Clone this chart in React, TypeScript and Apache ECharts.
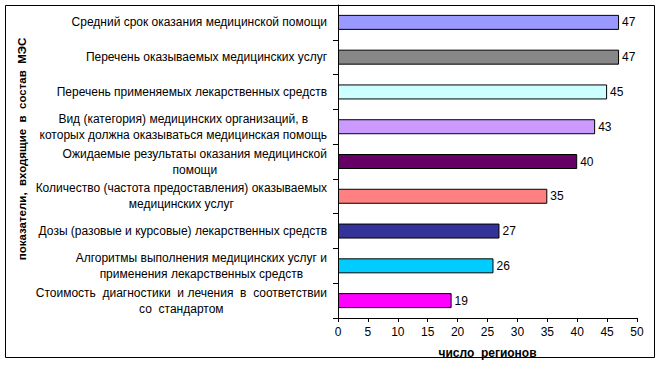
import React, { useEffect, useRef } from "react";
import * as echarts from "echarts";

const categories: string[] = [
  "Средний срок оказания медицинской помощи",
  "Перечень оказываемых медицинских услуг",
  "Перечень применяемых лекарственных средств",
  "Вид (категория) медицинских организаций, в\nкоторых должна оказываться медицинская помощь",
  "Ожидаемые результаты оказания медицинской\nпомощи",
  "Количество (частота предоставления) оказываемых\nмедицинских услуг",
  "Дозы (разовые и курсовые) лекарственных средств",
  "Алгоритмы выполнения медицинских услуг и\nприменения лекарственных средств",
  "Стоимость  диагностики  и лечения  в  соответствии\nсо  стандартом",
];
const values: number[] = [47, 47, 45, 43, 40, 35, 27, 26, 19];
const colors: string[] = [
  "#9999FF",
  "#878787",
  "#CCFFFF",
  "#CC99FF",
  "#660066",
  "#FF8080",
  "#333399",
  "#00CCFF",
  "#FF00FF",
];
const xTicks: number[] = [0, 5, 10, 15, 20, 25, 30, 35, 40, 45, 50];
const xAxisName = "число  регионов";
const yAxisName = "показатели,  входящие  в  состав  МЭС";

const FONT = "'Liberation Sans', Arial, sans-serif";

export default function App() {
  const ref = useRef<HTMLDivElement>(null);
  useEffect(() => {
    document.body.style.margin = "0";
    if (!ref.current) return;
    const chart = echarts.init(ref.current, null, { renderer: "svg" });
    chart.setOption({
      animation: false,
      backgroundColor: "#ffffff",
      textStyle: { fontFamily: FONT },
      grid: { left: 338, right: 22, top: 5, bottom: 47 },
      xAxis: {
        type: "value",
        min: xTicks[0],
        max: xTicks[xTicks.length - 1],
        interval: 5,
        name: xAxisName,
        nameLocation: "middle",
        nameGap: 29,
        nameTextStyle: { fontFamily: FONT, fontSize: 12, fontWeight: "bold", color: "#000" },
        axisLine: { show: true, lineStyle: { color: "#000", width: 1 } },
        axisTick: { show: true, length: 4, lineStyle: { color: "#000" } },
        axisLabel: { fontFamily: FONT, fontSize: 12, color: "#000", margin: 8 },
        splitLine: { show: false },
      },
      yAxis: {
        type: "category",
        inverse: true,
        data: categories,
        axisLine: { show: true, lineStyle: { color: "#000", width: 1 } },
        axisTick: { show: true, length: 5, inside: false, lineStyle: { color: "#000" } },
        axisLabel: {
          margin: 11,
          align: "right",
          fontFamily: FONT,
          fontSize: 12,
          color: "#000",
          lineHeight: 16,
          formatter: (v: string) =>
            v
              .split("\n")
              .map((l) => "{c|" + l + "}")
              .join("\n"),
          rich: {
            c: { align: "center", fontFamily: FONT, fontSize: 12, color: "#000", lineHeight: 16 },
          },
        },
        splitLine: { show: false },
      },
      series: [
        {
          type: "bar",
          barWidth: 15,
          data: values.map((v, i) => ({
            value: v,
            itemStyle: { color: colors[i], borderColor: "#000", borderWidth: 1 },
          })),
          label: {
            show: true,
            position: "right",
            distance: 3,
            fontFamily: FONT,
            fontSize: 12,
            color: "#000",
          },
        },
      ],
      graphic: [
        {
          type: "rect",
          shape: { x: 5.5, y: 5.5, width: 649, height: 352 },
          style: { fill: "none", stroke: "#000", lineWidth: 1 },
          silent: true,
        },
        {
          type: "text",
          x: 22,
          y: 149,
          rotation: Math.PI / 2,
          style: {
            text: yAxisName,
            fontFamily: FONT,
            fontSize: 11.5,
            fontWeight: "bold",
            fill: "#000",
            align: "center",
            verticalAlign: "middle",
          },
          silent: true,
        },
      ],
    });
    return () => chart.dispose();
  }, []);
  return <div ref={ref} style={{ width: 659, height: 365 }} />;
}
